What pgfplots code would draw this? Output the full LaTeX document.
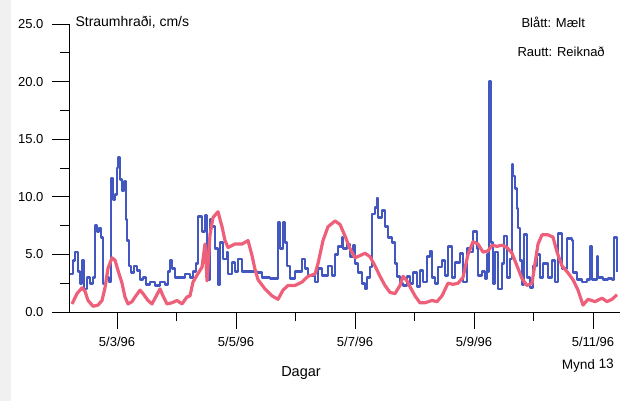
\documentclass[border=0pt]{standalone}
\usepackage{pgfplots}
\pgfplotsset{compat=1.18}
\usepackage{fontspec}
\setmainfont{Liberation Sans}
\definecolor{maelt}{RGB}{66,88,192}
\definecolor{reikn}{RGB}{238,96,122}

% x = day of May 1996, y = current speed in cm/s
\pgfplotstableread{
x y
2.210 3.3
2.261 4.5
2.294 5.2
2.345 3.5
2.378 2.5
2.412 4.5
2.445 2.0
2.496 3.0
2.546 2.5
2.597 3.0
2.630 7.5
2.664 7.0
2.697 7.3
2.731 6.5
2.765 2.5
2.815 3.0
2.866 2.6
2.899 11.6
2.933 9.8
2.966 10.2
3.000 12.5
3.017 13.4
3.050 11.5
3.084 10.5
3.118 11.3
3.151 8.0
3.168 6.2
3.202 4.0
3.235 3.4
3.286 4.0
3.336 3.6
3.387 2.8
3.437 3.0
3.487 2.4
3.555 2.6
3.639 2.3
3.723 2.6
3.807 2.4
3.857 3.5
3.891 4.5
3.924 3.8
3.975 3.0
4.059 3.0
4.143 3.3
4.227 3.0
4.277 3.5
4.328 4.2
4.361 8.3
4.429 7.0
4.479 8.4
4.513 5.6
4.529 2.8
4.563 8.0
4.597 7.4
4.647 5.5
4.697 2.4
4.731 6.0
4.782 4.6
4.849 5.2
4.866 3.3
4.933 4.3
4.983 3.5
5.034 4.6
5.101 3.5
5.235 3.5
5.353 3.4
5.437 3.0
5.571 2.9
5.672 2.9
5.706 7.8
5.739 5.5
5.790 7.8
5.824 6.0
5.857 4.0
5.908 2.9
5.992 3.5
6.109 4.6
6.160 3.8
6.210 3.2
6.328 2.6
6.378 3.8
6.445 3.2
6.546 4.0
6.613 3.2
6.664 5.0
6.714 5.7
6.782 6.5
6.798 5.5
6.866 5.9
6.916 4.8
6.966 5.8
7.000 4.2
7.050 3.4
7.118 2.5
7.168 2.0
7.202 3.0
7.252 3.9
7.286 8.5
7.336 9.1
7.370 9.9
7.387 8.2
7.454 8.8
7.504 7.4
7.555 6.5
7.622 6.0
7.672 4.2
7.706 3.1
7.756 2.5
7.807 2.3
7.874 3.1
7.924 2.5
7.975 3.4
8.042 2.2
8.092 3.6
8.143 2.6
8.210 4.8
8.261 5.3
8.294 3.0
8.345 2.5
8.395 3.9
8.462 4.5
8.513 3.2
8.563 5.7
8.630 3.0
8.681 4.3
8.765 5.1
8.815 2.6
8.882 5.5
8.933 5.2
8.983 7.0
9.050 5.5
9.067 3.2
9.134 3.5
9.185 2.9
9.218 5.0
9.235 3.5
9.252 20.0
9.286 6.0
9.319 2.5
9.353 5.2
9.403 2.0
9.471 4.2
9.504 6.6
9.555 3.0
9.605 4.6
9.639 12.8
9.655 11.8
9.689 10.7
9.723 9.0
9.739 7.3
9.773 4.5
9.807 2.4
9.840 6.7
9.891 3.0
9.941 2.1
9.992 4.0
10.059 5.0
10.109 3.0
10.160 4.2
10.244 3.0
10.311 4.5
10.361 2.6
10.412 6.8
10.479 3.8
10.563 6.4
10.647 6.2
10.664 3.4
10.731 2.8
10.815 2.6
10.899 2.8
10.950 5.7
10.983 2.8
11.067 4.8
11.084 3.0
11.168 2.8
11.252 2.9
11.319 2.8
11.353 6.5
11.403 3.5
}\maelt

\pgfplotstableread{
x y
2.244 0.7
2.328 1.6
2.412 2.1
2.462 1.8
2.513 1.0
2.597 0.5
2.681 0.6
2.748 1.0
2.798 2.1
2.849 3.8
2.916 4.7
2.966 4.5
3.017 3.6
3.084 2.5
3.134 1.3
3.185 0.7
3.252 0.9
3.303 1.3
3.387 1.9
3.437 1.6
3.521 1.0
3.588 0.7
3.639 1.2
3.723 2.0
3.773 1.4
3.840 0.7
3.924 0.8
4.008 1.0
4.092 0.7
4.176 1.3
4.227 1.4
4.277 2.6
4.345 3.2
4.429 3.9
4.479 5.9
4.513 2.7
4.563 6.7
4.613 8.2
4.697 8.7
4.765 7.4
4.815 6.2
4.866 5.6
4.983 5.9
5.101 5.9
5.202 6.2
5.269 4.9
5.319 3.7
5.370 2.8
5.487 2.0
5.605 1.4
5.706 1.1
5.790 1.9
5.874 2.3
5.992 2.3
6.109 2.6
6.210 3.1
6.328 3.3
6.378 4.2
6.462 6.2
6.546 7.4
6.664 7.9
6.748 7.6
6.832 6.6
6.916 5.5
7.000 4.7
7.084 4.9
7.168 5.1
7.252 4.8
7.336 4.0
7.420 3.1
7.504 2.3
7.588 1.7
7.672 1.6
7.756 2.3
7.807 3.1
7.874 2.7
7.924 2.2
8.008 1.4
8.092 0.8
8.176 0.8
8.294 1.0
8.378 0.9
8.462 1.4
8.563 2.5
8.647 2.4
8.731 2.5
8.815 3.0
8.899 5.0
8.983 6.1
9.067 5.9
9.151 5.2
9.235 5.3
9.303 5.8
9.387 5.7
9.471 5.8
9.555 5.6
9.639 5.1
9.723 4.0
9.807 2.9
9.891 2.3
9.975 2.5
10.025 4.2
10.076 5.9
10.143 6.7
10.244 6.7
10.328 6.5
10.395 5.2
10.479 4.0
10.580 3.4
10.664 2.8
10.748 1.9
10.832 0.6
10.916 1.1
11.034 0.9
11.151 1.2
11.235 0.9
11.319 1.1
11.403 1.5
}\reikn

\begin{document}
\begin{tikzpicture}
\useasboundingbox (0pt,0pt) rectangle (620pt,401pt);
\fill[black!6] (0pt,0pt) rectangle (11pt,401pt);
\begin{axis}[
    at={(69pt,89pt)}, anchor=south west,
    scale only axis, width=551pt, height=288pt,
    xmin=2.193, xmax=11.454,
    ymin=0, ymax=25,
    axis lines*=left,
    axis line style={black, line width=0.6pt},
    tick align=outside,
    major tick length=17pt, minor tick length=9pt,
    tick style={black, line width=0.6pt},
    xtick={3,5,7,9,11},
    xticklabels={5/3/96,5/5/96,5/7/96,5/9/96,5/11/96},
    minor xtick={4,6,8,10},
    ytick={0,5,10,15,20,25},
    minor ytick={2.5,7.5,12.5,17.5,22.5},
    yticklabel style={xshift=-5pt, /pgf/number format/.cd, fixed, fixed zerofill, precision=1, assume math mode=true},
    xticklabel style={yshift=-5pt},
    ticklabel style={font=\fontsize{13}{15}\selectfont},
    clip=true,
]
\addplot[maelt, line width=2.8pt, const plot, line join=round] table {\maelt};
\addplot[reikn, line width=3.2pt, line join=round] table {\reikn};
\end{axis}
\node[anchor=base west, font=\fontsize{14}{16}\selectfont] at (72pt,374pt) {Straumhraði, cm/s};
\node[anchor=base west, font=\fontsize{13}{15}\selectfont] at (518pt,373pt) {Blått: Mælt};
\node[anchor=base west, font=\fontsize{13}{15}\selectfont] at (514pt,344pt) {Rautt: Reiknað};
\node[anchor=base, font=\fontsize{14.5}{16}\selectfont] at (301pt,24pt) {Dagar};
\node[anchor=base west, rotate=2, font=\fontsize{13.5}{16}\selectfont, inner sep=0pt] at (562pt,31pt) {Mynd 13};
\end{tikzpicture}
\end{document}
